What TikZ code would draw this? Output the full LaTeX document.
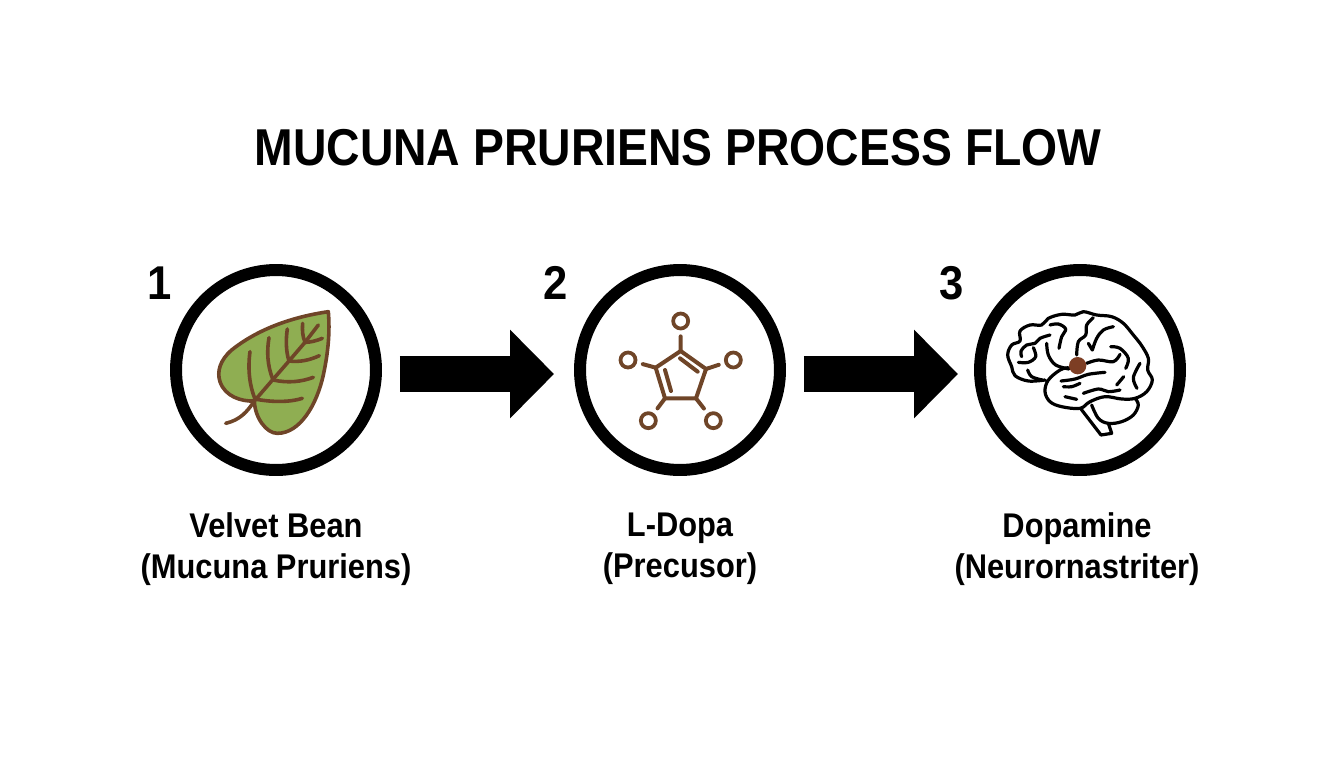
\documentclass[tikz,border=0pt]{standalone}
\usepackage{fontspec}
\setmainfont{Liberation Sans}
\usetikzlibrary{arrows.meta}

\definecolor{leafgreen}{HTML}{8FAE52}
\definecolor{bark}{HTML}{6F4528}

\tikzset{
  ring/.style={circle,draw=black,line width=.24cm,minimum size=4cm,inner sep=0},
  flow/.style={line width=.72cm,-{Triangle[length=.88cm,width=1.72cm]},shorten <=.36cm},
  title/.style={font=\fontsize{29.5}{30}\bfseries\selectfont,xscale=.894},
  number/.style={font=\fontsize{27}{28}\bfseries\selectfont,xscale=.92},
  caption/.style={font=\fontsize{19.5}{23.4}\bfseries\selectfont,align=center,xscale=.9},
  vein/.style={draw=bark,line width=.072cm,line cap=round,line join=round},
  atom/.style={circle,draw=bark,line width=.075cm,minimum size=.3cm,inner sep=0},
  bond/.style={draw=bark,line width=.08cm,line cap=round},
  sulcus/.style={draw=black,line width=.064cm,line cap=round,line join=round}
}

\begin{document}
\begin{tikzpicture}[x=0.02cm,y=-0.02cm]
\useasboundingbox (0,0) rectangle (1344,768);

\node[title] (head) at (678,148) {MUCUNA PRURIENS PROCESS FLOW};

\node[ring] (c1) at (276,370) {};
\node[ring] (c2) at (680,370) {};
\node[ring] (c3) at (1080,370) {};

\draw[flow,shorten >=.4cm] ([yshift=-.08cm]c1.east) -- ([yshift=-.08cm]c2.west);
\draw[flow,shorten >=.32cm] ([yshift=-.08cm]c2.east) -- ([yshift=-.08cm]c3.west);

\node[number] (n1) at (160,283) {1};
\node[number] (n2) at (556,283) {2};
\node[number] (n3) at (952,283) {3};

\node[caption] (t1) at (276,549) {Velvet Bean\\(Mucuna Pruriens)};
\node[caption] (t2) at (680,549) {L-Dopa\\(Precusor)};
\node[caption] (t3) at (1077,549) {Dopamine\\(Neurornastriter)};

% leaf
\begin{scope}[shift={(160,255)},scale=1/3]
\filldraw[vein,fill=leafgreen] (505,170) .. controls (390,187) and (290,225) .. (215,285)
  .. controls (180,315) and (170,350) .. (180,380) .. controls (195,425) and (245,440) .. (283,438)
  .. controls (285,490) and (320,535) .. (352,535) .. controls (420,535) and (470,450) .. (490,360)
  .. controls (505,290) and (510,230) .. (505,170) -- cycle;
\draw[vein] (197,505) .. controls (240,495) and (262,470) .. (283,438) -- (340,372) -- (387,318) -- (435,262) -- (475,210);
\draw[vein] (285,432) .. controls (268,390) and (263,340) .. (270,290);
\draw[vein] (285,432) .. controls (335,442) and (390,442) .. (427,430);
\draw[vein] (338,372) .. controls (322,330) and (320,290) .. (327,248);
\draw[vein] (340,375) .. controls (385,385) and (425,380) .. (460,367);
\draw[vein] (387,318) .. controls (378,290) and (377,255) .. (382,222);
\draw[vein] (387,318) .. controls (420,322) and (450,315) .. (478,302);
\draw[vein] (435,262) .. controls (428,245) and (426,225) .. (428,205);
\draw[vein] (435,262) .. controls (452,262) and (470,257) .. (487,250);
\end{scope}

% molecule
\begin{scope}[shift={(565,255)},scale=1/3]
\coordinate (v1) at (347,288);
\coordinate (v2) at (423,342);
\coordinate (v3) at (393,430);
\coordinate (v4) at (300,430);
\coordinate (v5) at (272,338);
\node[atom] (a1) at (347,198) {};
\node[atom] (a2) at (505,315) {};
\node[atom] (a3) at (445,497) {};
\node[atom] (a4) at (250,497) {};
\node[atom] (a5) at (189,315) {};
\draw[bond,line join=round] (v1) -- (v2) -- (v3) -- (v4) -- (v5) -- cycle;
\draw[bond] (345,310) -- (398,350);
\draw[bond] (300,345) -- (318,408);
\foreach \i in {1,...,5}
  \draw[bond,shorten >=.12cm] (v\i) -- (a\i);
\end{scope}

% brain
\begin{scope}[shift={(965,255)},scale=1/3]
\draw[sulcus] plot[smooth,tension=.6] coordinates {(240,375) (190,378) (150,362) (140,335) (128,300) (140,270) (165,258) (165,228) (195,210) (230,210) (250,190) (290,178) (330,180) (355,170) (395,180) (440,185) (475,205) (505,240) (530,272) (550,310) (548,345) (562,375) (545,410) (510,430) (470,432) (420,425) (375,440) (345,460) (290,455) (255,440) (240,410) (250,375) (285,345) (310,338)};
\draw[sulcus] plot[smooth,tension=.6] coordinates {(510,430) (520,450) (505,480) (470,500) (430,505) (400,490) (380,450)};
\draw[sulcus,line join=round] (348,462) -- (408,540) -- (440,535) -- (430,505);
\draw[sulcus] plot[smooth,tension=.6] coordinates {(170,305) (168,288) (185,270) (210,265) (225,250) (255,240)};
\draw[sulcus] plot[smooth,tension=.6] coordinates {(160,322) (190,322) (212,305) (205,278)};
\draw[sulcus] plot[smooth,tension=.6] coordinates {(188,345) (200,365) (232,375)};
\draw[sulcus] plot[smooth,tension=.6] coordinates {(255,210) (280,207) (302,222) (290,245) (282,280)};
\draw[sulcus] plot[smooth,tension=.6] coordinates {(245,265) (250,300) (272,330) (312,342)};
\draw[sulcus] plot[smooth,tension=.6] coordinates {(385,188) (365,210) (362,240) (340,260) (335,300)};
\draw[sulcus] plot[smooth,tension=.6] coordinates {(445,215) (415,225) (395,250) (382,285)};
\draw[sulcus] (370,265) -- (382,285);
\draw[sulcus] plot[smooth,tension=.6] coordinates {(365,325) (400,315) (445,320) (465,298)};
\draw[sulcus] plot[smooth,tension=.6] coordinates {(437,275) (465,280) (490,310) (482,340)};
\draw[sulcus] plot[smooth,tension=.6] coordinates {(288,378) (330,372) (370,358) (420,352)};
\draw[sulcus] plot[smooth,tension=.6] coordinates {(295,395) (320,395) (345,385)};
\draw[sulcus] plot[smooth,tension=.6] coordinates {(355,415) (400,402) (430,410) (465,405)};
\draw[sulcus] plot[smooth,tension=.6] coordinates {(300,425) (335,433)};
\draw[sulcus] (455,390) -- (476,365);
\draw[sulcus] plot[smooth,tension=.6] coordinates {(525,325) (505,368) (516,400)};
\fill[bark!90!red] (338,332) circle [radius=26];
\end{scope}
\end{tikzpicture}
\end{document}
